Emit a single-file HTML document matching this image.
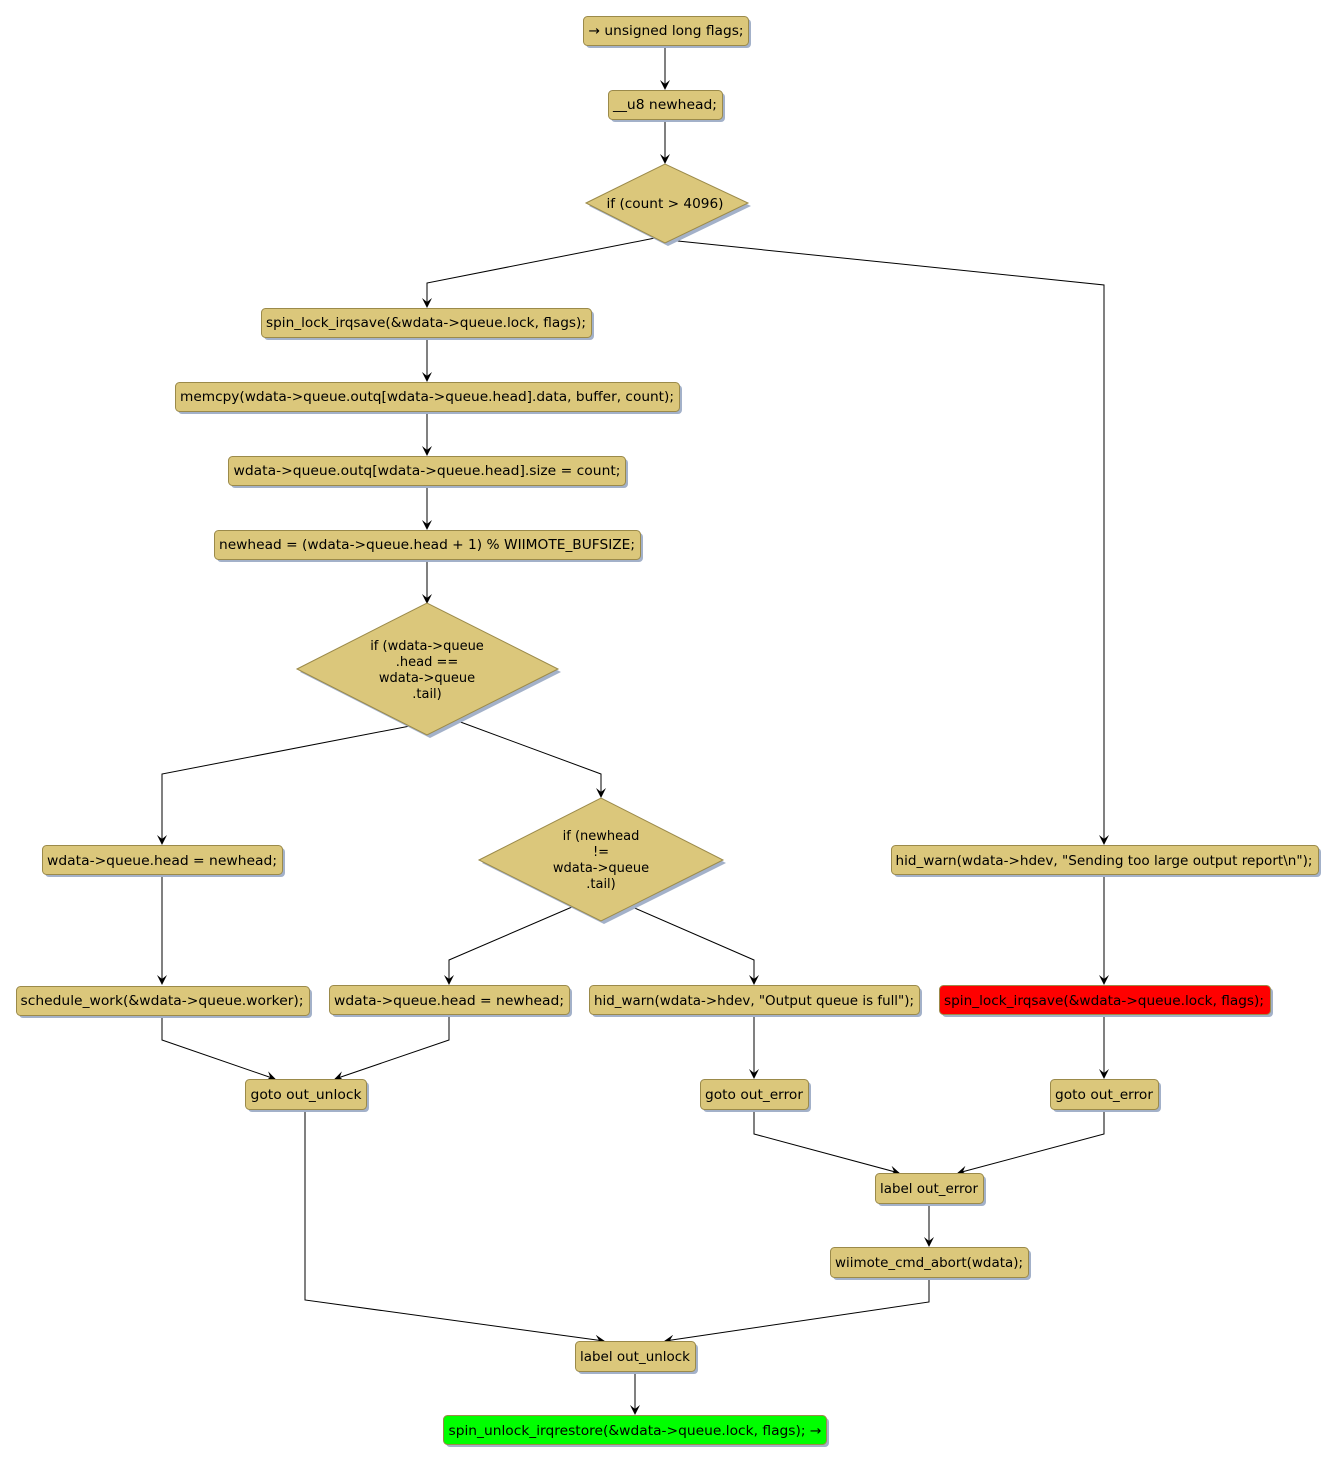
<!DOCTYPE html>
<html><head><meta charset="utf-8"><style>
html,body{margin:0;padding:0;background:#fff;}
svg{display:block;}
text{font-family:"DejaVu Sans","Liberation Sans",sans-serif;font-size:13px;fill:#000;}
</style></head><body>
<svg width="1336" height="1464" viewBox="0 0 1336 1464" xmlns="http://www.w3.org/2000/svg">
<defs>
<marker id="a" viewBox="0 0 10 10" refX="9" refY="5" markerWidth="10" markerHeight="10" markerUnits="userSpaceOnUse" orient="auto">
<path d="M0,0 L10,5 L0,10 L4,5 z" fill="#000"/>
</marker>
</defs>
<g fill="none" stroke="#000" stroke-width="1">
<path d="M665,45 V89" marker-end="url(#a)"/>
<path d="M665,119 V163" marker-end="url(#a)"/>
<path d="M655,238 L427,283 V307" marker-end="url(#a)"/>
<path d="M668,240 L1104,285 V844" marker-end="url(#a)"/>
<path d="M427,337 V381" marker-end="url(#a)"/>
<path d="M427,411 V455" marker-end="url(#a)"/>
<path d="M427,485 V529" marker-end="url(#a)"/>
<path d="M427,559 V603" marker-end="url(#a)"/>
<path d="M410,726 L162,774 V844" marker-end="url(#a)"/>
<path d="M455,720 L601,774 V797" marker-end="url(#a)"/>
<path d="M572,907 L449,960 V984" marker-end="url(#a)"/>
<path d="M630,906 L754,960 V984" marker-end="url(#a)"/>
<path d="M162,874 V984" marker-end="url(#a)"/>
<path d="M1104,874 V984" marker-end="url(#a)"/>
<path d="M162,1015 V1040 L275,1079" marker-end="url(#a)"/>
<path d="M449,1015 V1040 L335,1079" marker-end="url(#a)"/>
<path d="M754,1015 V1078" marker-end="url(#a)"/>
<path d="M1104,1015 V1078" marker-end="url(#a)"/>
<path d="M754,1109 V1134 L899,1173" marker-end="url(#a)"/>
<path d="M1104,1109 V1134 L958,1173" marker-end="url(#a)"/>
<path d="M929,1203 V1246" marker-end="url(#a)"/>
<path d="M305,1109 V1300 L604,1341" marker-end="url(#a)"/>
<path d="M929,1277 V1302 L665,1341" marker-end="url(#a)"/>
<path d="M635,1371 V1414" marker-end="url(#a)"/>
</g>
<!-- shadows -->
<g fill="#a3b1c9">
<rect x="586" y="19" width="165" height="29" rx="4"/>
<rect x="611" y="93" width="114" height="29" rx="4"/>
<polygon points="589,206 668,167 751,206 668,246"/>
<rect x="264" y="311" width="330" height="29" rx="4"/>
<rect x="178" y="385" width="504" height="29" rx="4"/>
<rect x="231" y="459" width="397" height="29" rx="4"/>
<rect x="217" y="533" width="426" height="29" rx="4"/>
<polygon points="300,672 430,606 561,672 430,738"/>
<rect x="45" y="848" width="240" height="29" rx="4"/>
<polygon points="482,863 604,801 726,863 604,924"/>
<rect x="894" y="848" width="427" height="29" rx="4"/>
<rect x="19" y="989" width="293" height="29" rx="4"/>
<rect x="332" y="988" width="240" height="29" rx="4"/>
<rect x="592" y="988" width="330" height="29" rx="4"/>
<rect x="942" y="988" width="331" height="29" rx="4"/>
<rect x="248" y="1082" width="121" height="30" rx="4"/>
<rect x="703" y="1082" width="108" height="30" rx="4"/>
<rect x="1053" y="1082" width="108" height="30" rx="4"/>
<rect x="878" y="1176" width="108" height="30" rx="4"/>
<rect x="833" y="1250" width="198" height="30" rx="4"/>
<rect x="578" y="1344" width="120" height="30" rx="4"/>
<rect x="446" y="1418" width="383" height="29" rx="4"/>
</g>
<g fill="#dbc77b" stroke="#9b8a4a" stroke-width="1">
<rect x="583.5" y="16.5" width="165" height="29" rx="4"/>
<rect x="608.5" y="90.5" width="114" height="29" rx="4"/>
<polygon points="586,203 665,164 748,203 665,243"/>
<rect x="261.5" y="308.5" width="330" height="29" rx="4"/>
<rect x="175.5" y="382.5" width="504" height="29" rx="4"/>
<rect x="228.5" y="456.5" width="397" height="29" rx="4"/>
<rect x="214.5" y="530.5" width="426" height="29" rx="4"/>
<polygon points="297,669 427,603 558,669 427,735"/>
<rect x="42.5" y="845.5" width="240" height="29" rx="4"/>
<polygon points="479,860 601,798 723,860 601,921"/>
<rect x="891.5" y="845.5" width="427" height="29" rx="4"/>
<rect x="16.5" y="986.5" width="293" height="29" rx="4"/>
<rect x="329.5" y="985.5" width="240" height="29" rx="4"/>
<rect x="589.5" y="985.5" width="330" height="29" rx="4"/>
<rect x="939.5" y="985.5" width="331" height="29" rx="4" fill="#ff0000"/>
<rect x="245.5" y="1079.5" width="121" height="30" rx="4"/>
<rect x="700.5" y="1079.5" width="108" height="30" rx="4"/>
<rect x="1050.5" y="1079.5" width="108" height="30" rx="4"/>
<rect x="875.5" y="1173.5" width="108" height="30" rx="4"/>
<rect x="830.5" y="1247.5" width="198" height="30" rx="4"/>
<rect x="575.5" y="1341.5" width="120" height="30" rx="4"/>
<rect x="443.5" y="1415.5" width="383" height="29" rx="4" fill="#00ff00"/>
</g>
<g text-anchor="middle">
<text x="666" y="35" textLength="155" lengthAdjust="spacingAndGlyphs">→ unsigned long flags;</text>
<text x="665" y="109" textLength="104" lengthAdjust="spacingAndGlyphs">__u8 newhead;</text>
<text x="665" y="208" textLength="117" lengthAdjust="spacingAndGlyphs">if (count &gt; 4096)</text>
<text x="426" y="327" textLength="320" lengthAdjust="spacingAndGlyphs">spin_lock_irqsave(&amp;wdata-&gt;queue.lock, flags);</text>
<text x="427" y="401" textLength="494" lengthAdjust="spacingAndGlyphs">memcpy(wdata-&gt;queue.outq[wdata-&gt;queue.head].data, buffer, count);</text>
<text x="427" y="475" textLength="387" lengthAdjust="spacingAndGlyphs">wdata-&gt;queue.outq[wdata-&gt;queue.head].size = count;</text>
<text x="427" y="549" textLength="416" lengthAdjust="spacingAndGlyphs">newhead = (wdata-&gt;queue.head + 1) % WIIMOTE_BUFSIZE;</text>
<text x="427" y="650">if (wdata-&gt;queue</text>
<text x="427" y="666">.head ==</text>
<text x="427" y="682">wdata-&gt;queue</text>
<text x="427" y="698">.tail)</text>
<text x="162" y="865" textLength="230" lengthAdjust="spacingAndGlyphs">wdata-&gt;queue.head = newhead;</text>
<text x="601" y="840">if (newhead</text>
<text x="601" y="856">!=</text>
<text x="601" y="872">wdata-&gt;queue</text>
<text x="601" y="888">.tail)</text>
<text x="1104" y="865" textLength="417" lengthAdjust="spacingAndGlyphs">hid_warn(wdata-&gt;hdev, "Sending too large output report\n");</text>
<text x="162" y="1005" textLength="283" lengthAdjust="spacingAndGlyphs">schedule_work(&amp;wdata-&gt;queue.worker);</text>
<text x="449" y="1005" textLength="230" lengthAdjust="spacingAndGlyphs">wdata-&gt;queue.head = newhead;</text>
<text x="754" y="1005" textLength="320" lengthAdjust="spacingAndGlyphs">hid_warn(wdata-&gt;hdev, "Output queue is full");</text>
<text x="1104" y="1005" textLength="320" lengthAdjust="spacingAndGlyphs">spin_lock_irqsave(&amp;wdata-&gt;queue.lock, flags);</text>
<text x="306" y="1099" textLength="111" lengthAdjust="spacingAndGlyphs">goto out_unlock</text>
<text x="754" y="1099" textLength="98" lengthAdjust="spacingAndGlyphs">goto out_error</text>
<text x="1104" y="1099" textLength="98" lengthAdjust="spacingAndGlyphs">goto out_error</text>
<text x="929" y="1193" textLength="98" lengthAdjust="spacingAndGlyphs">label out_error</text>
<text x="929" y="1267" textLength="188" lengthAdjust="spacingAndGlyphs">wiimote_cmd_abort(wdata);</text>
<text x="635" y="1361" textLength="110" lengthAdjust="spacingAndGlyphs">label out_unlock</text>
<text x="635" y="1435" textLength="373" lengthAdjust="spacingAndGlyphs">spin_unlock_irqrestore(&amp;wdata-&gt;queue.lock, flags); →</text>
</g>
</svg>
</body></html>
